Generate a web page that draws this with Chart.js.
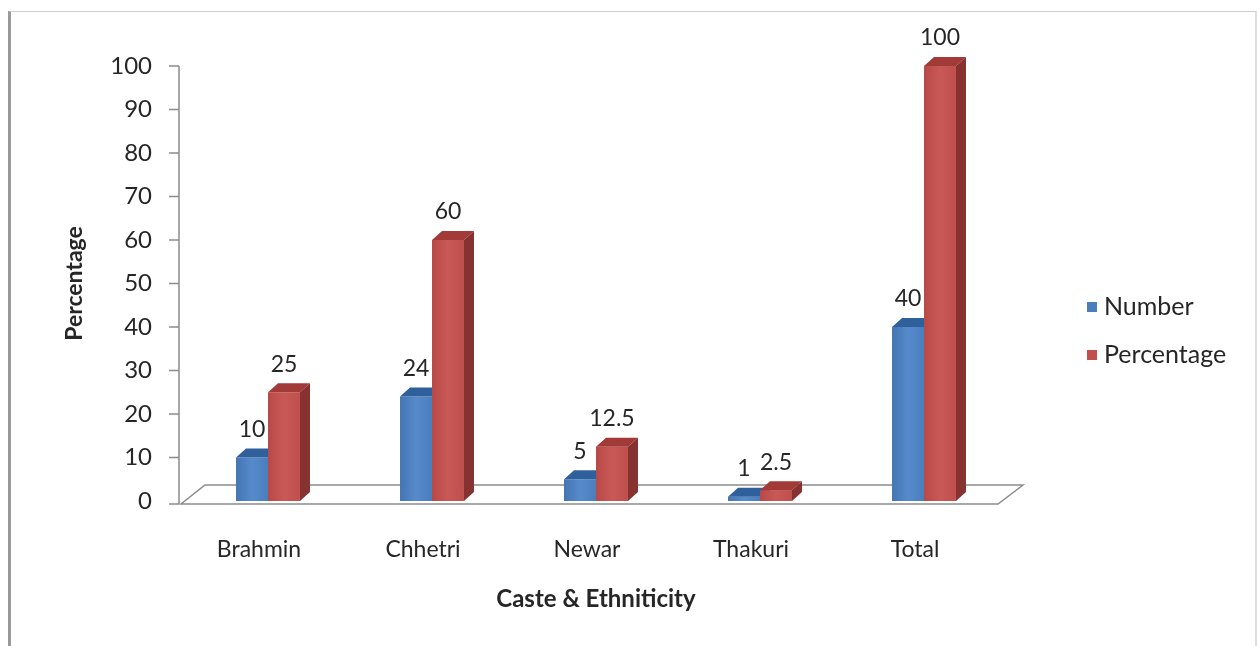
<!DOCTYPE html>
<html>
<head>
<meta charset="utf-8">
<script src="https://cdn.jsdelivr.net/npm/chart.js@4/dist/chart.umd.min.js"></script>
<style>
  html, body { margin: 0; padding: 0; background: #fff; }
  #wrap { position: relative; width: 1259px; height: 646px; overflow: hidden; }
  #frame {
    position: absolute; left: 8px; top: 11px; width: 1244px; height: 700px;
    border-left: 3px solid #9a9a9a; border-top: 1px solid #cfcfcf; border-right: 2px solid #dedede;
    pointer-events: none;
  }
  canvas { position: absolute; left: 0; top: 0; }
</style>
</head>
<body>
<div id="wrap">
  <canvas id="c" width="1259" height="646"></canvas>
  <div id="frame"></div>
</div>
<script>
// Respondents by caste & ethnicity
const categories = ['Brahmin', 'Chhetri', 'Newar', 'Thakuri', 'Total'];
const numberValues = [10, 24, 5, 1, 40];
const percentValues = [25, 60, 12.5, 2.5, 100];
const yTicks = [0, 10, 20, 30, 40, 50, 60, 70, 80, 90, 100];

const FONT = 'Lato, "Open Sans", sans-serif';
const TEXT = '#262626';

// colours for each series: front gradient stops, top face, side face
const palette = [
  { front: ['#4574b2', '#568bcb', '#4a7dbd'], top: '#30609b', side: '#2f5a8f', legend: '#4a7ebb' },
  { front: ['#b84946', '#c95956', '#bf4f4c'], top: '#a23a37', side: '#853230', legend: '#c0504d' }
];
const DEPTH_X = 10, DEPTH_Y = 9;

function poly(ctx, pts, fill) {
  ctx.beginPath();
  ctx.moveTo(pts[0][0], pts[0][1]);
  for (let k = 1; k < pts.length; k++) ctx.lineTo(pts[k][0], pts[k][1]);
  ctx.closePath();
  ctx.fillStyle = fill;
  ctx.fill();
}

const bars3d = {
  id: 'bars3d',
  beforeDatasetsDraw(chart) {
    const { ctx, chartArea, scales: { x, y } } = chart;
    const y0 = y.getPixelForValue(0);
    const ax = chartArea.left - 7;

    ctx.save();
    // floor of the plot
    ctx.strokeStyle = '#8c8c8c';
    ctx.lineWidth = 1.5;
    ctx.beginPath();
    ctx.moveTo(ax + 2, y0 + 3);
    ctx.lineTo(chartArea.right - 8, y0 + 3);
    ctx.lineTo(chartArea.right + 17, y0 - 16);
    ctx.lineTo(chartArea.left + 19, y0 - 16);
    ctx.closePath();
    ctx.fillStyle = '#ffffff';
    ctx.fill();
    ctx.stroke();

    // value axis with tick marks
    ctx.beginPath();
    ctx.moveTo(ax, y.getPixelForValue(100));
    ctx.lineTo(ax, y0 + 3);
    yTicks.forEach(v => {
      const py = v === 0 ? y0 + 3 : y.getPixelForValue(v);
      ctx.moveTo(ax - 10, py);
      ctx.lineTo(ax, py);
    });
    ctx.stroke();

    // bars with a front, top and side face
    const n = chart.data.labels.length;
    for (let i = 0; i < n; i++) {
      chart.data.datasets.forEach((ds, j) => {
        const el = chart.getDatasetMeta(j).data[i];
        const p = el.getProps(['x', 'y', 'base', 'width'], true);
        const l = p.x - p.width / 2, r = p.x + p.width / 2;
        const t = p.y, b = p.base;
        const c = palette[j];
        const g = ctx.createLinearGradient(l, 0, r, 0);
        g.addColorStop(0, c.front[0]);
        g.addColorStop(0.5, c.front[1]);
        g.addColorStop(1, c.front[2]);
        poly(ctx, [[l, t], [r, t], [r, b], [l, b]], g);
        poly(ctx, [[l, t], [l + DEPTH_X, t - DEPTH_Y], [r + DEPTH_X, t - DEPTH_Y], [r, t]], c.top);
        poly(ctx, [[r, t], [r + DEPTH_X, t - DEPTH_Y], [r + DEPTH_X, b - DEPTH_Y], [r, b]], c.side);
      });
    }
    ctx.restore();
    return false;
  },
  afterDraw(chart) {
    const { ctx } = chart;
    ctx.save();
    // value labels above each bar
    ctx.font = '23px ' + FONT;
    ctx.fillStyle = TEXT;
    ctx.textAlign = 'center';
    ctx.textBaseline = 'middle';
    chart.data.datasets.forEach((ds, j) => {
      chart.getDatasetMeta(j).data.forEach((el, i) => {
        const p = el.getProps(['x', 'y'], true);
        ctx.fillText(String(ds.data[i]), p.x, p.y - 28);
      });
    });
    // legend
    ctx.font = '25px ' + FONT;
    ctx.textAlign = 'left';
    chart.data.datasets.forEach((ds, j) => {
      const ly = 307 + j * 48;
      ctx.fillStyle = palette[j].legend;
      ctx.fillRect(1087, ly - 5, 10, 10);
      ctx.fillStyle = TEXT;
      ctx.fillText(ds.label, 1104, ly);
    });
    ctx.restore();
  }
};

new Chart(document.getElementById('c'), {
  type: 'bar',
  data: {
    labels: categories,
    datasets: [
      { label: 'Number', data: numberValues, backgroundColor: palette[0].legend },
      { label: 'Percentage', data: percentValues, backgroundColor: palette[1].legend }
    ]
  },
  options: {
    responsive: false,
    animation: false,
    events: [],
    layout: { padding: { left: 50, right: 253, top: 66, bottom: 18 } },
    categoryPercentage: 0.39,
    barPercentage: 1.0,
    plugins: {
      legend: { display: false },
      tooltip: { enabled: false }
    },
    scales: {
      x: {
        grid: { display: false, drawTicks: false },
        border: { display: false },
        ticks: { font: { family: FONT, size: 23 }, color: TEXT, padding: 35, labelOffset: -9 },
        title: {
          display: true, text: 'Caste & Ethniticity', color: TEXT,
          font: { family: FONT, size: 24, weight: 'bold' }, padding: { top: 0, bottom: 14 }
        },
        afterFit(scale) { scale.height = 646 - 18 - 501; }
      },
      y: {
        min: 0, max: 100,
        grid: { display: false, drawTicks: false },
        border: { display: false },
        ticks: { stepSize: 10, font: { family: FONT, size: 24 }, color: TEXT, padding: 34 },
        title: {
          display: true, text: 'Percentage', color: TEXT,
          font: { family: FONT, size: 23, weight: 'bold' }, padding: { top: 11, bottom: 0 }
        },
        afterFit(scale) { scale.width = 186 - 50; }
      }
    }
  },
  plugins: [bars3d]
});
</script>
</body>
</html>
